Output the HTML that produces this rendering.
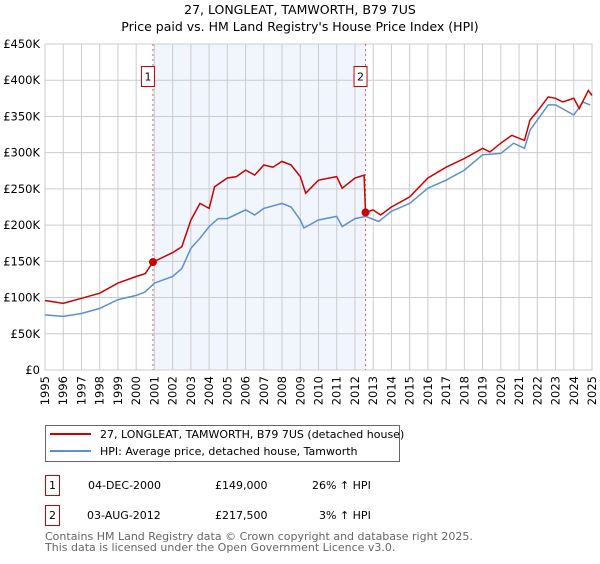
<!DOCTYPE html>
<html><head><meta charset="utf-8"><style>
body{margin:0;background:#fff;font-family:"DejaVu Sans","Liberation Sans",sans-serif;}
svg text{font-family:"DejaVu Sans","Liberation Sans",sans-serif;}
</style></head><body>
<svg id="c" width="600" height="560" xmlns="http://www.w3.org/2000/svg">
<text x="300" y="14" text-anchor="middle" font-size="12.5" fill="#000">27, LONGLEAT, TAMWORTH, B79 7US</text>
<text x="300" y="31" text-anchor="middle" font-size="12.5" fill="#000">Price paid vs. HM Land Registry's House Price Index (HPI)</text>
<g id="plot"></g>
<g>
<rect x="45.5" y="425.5" width="354" height="36" fill="#fff" stroke="#666"/>
<line x1="50" y1="434" x2="91" y2="434" stroke="#cc0000" stroke-width="2"/>
<text x="100" y="438" font-size="11">27, LONGLEAT, TAMWORTH, B79 7US (detached house)</text>
<line x1="50" y1="451" x2="91" y2="451" stroke="#5b8fd0" stroke-width="2"/>
<text x="100" y="455" font-size="11">HPI: Average price, detached house, Tamworth</text>
</g>
<g font-size="11">
<rect x="45.5" y="475.5" width="14" height="20" fill="none" stroke="#cc0000"/>
<text x="52.5" y="489" text-anchor="middle">1</text>
<text x="88" y="489">04-DEC-2000</text>
<text x="215" y="489">£149,000</text>
<text x="312" y="489">26% ↑ HPI</text>
</g>
<g font-size="11">
<rect x="45.5" y="505.5" width="14" height="20" fill="none" stroke="#cc0000"/>
<text x="52.5" y="519" text-anchor="middle">2</text>
<text x="87" y="519">03-AUG-2012</text>
<text x="215" y="519">£217,500</text>
<text x="319" y="519">3% ↑ HPI</text>
</g>
<text x="45" y="540" font-size="11" fill="#666">Contains HM Land Registry data © Crown copyright and database right 2025.</text>
<text x="45" y="551" font-size="11" fill="#666">This data is licensed under the Open Government Licence v3.0.</text>
</svg>
<script>
const yearTicks=[1995,1996,1997,1998,1999,2000,2001,2002,2003,2004,2005,2006,2007,2008,2009,2010,2011,2012,2013,2014,2015,2016,2017,2018,2019,2020,2021,2022,2023,2024,2025];
const valueTicks=[0,50,100,150,200,250,300,350,400,450];
const valueLabels=["£0","£50K","£100K","£150K","£200K","£250K","£300K","£350K","£400K","£450K"];
const hpiYears=[1995,1996,1997,1998,1999,2000,2000.5,2001,2002,2002.5,2003,2003.5,2004,2004.5,2005,2006,2006.5,2007,2008,2008.5,2009,2009.2,2010,2011,2011.3,2012,2012.6,2013.3,2014,2015,2016,2017,2018,2019,2020,2020.7,2021.3,2021.6,2022,2022.6,2023,2023.5,2024,2024.5,2024.9];
const hpiValues=[76,74,78,85,97,103,108,120,129,140,168,182,198,209,209,221,214,223,230,225,207,196,207,212,198,209,212,205,219,230,251,262,276,297,299,313,306,331,345,366,366,359,352,370,366];
const priceYears=[1995,1996,1997,1998,1999,2000,2000.5,2000.92,2002,2002.5,2003,2003.5,2004,2004.3,2005,2005.5,2006,2006.5,2007,2007.5,2008,2008.5,2009,2009.3,2010,2011,2011.3,2012,2012.5,2012.58,2013,2013.4,2014,2015,2016,2017,2018,2019,2019.4,2020,2020.6,2021.3,2021.6,2022,2022.6,2023,2023.4,2024,2024.3,2024.8,2025];
const priceValues=[96,92,99,106,120,129,133,149,162,170,207,230,223,253,265,267,276,269,283,280,288,283,267,244,262,267,251,265,269,217.5,221,214,225,239,265,280,292,306,301,313,324,317,345,357,377,375,370,375,361,386,379];
const saleYears=[2000.92,2012.58];
const saleValues=[149,217.5];
const saleLabels=["1","2"];

const L=45,R=592,T=44,B=370;
const X=y=>L+(y-1995)/(2025-1995)*(R-L);
const Y=v=>B-v/450*(B-T);
const NS="http://www.w3.org/2000/svg";
const g=document.getElementById('plot');
function mk(t,a){const e=document.createElementNS(NS,t);for(const k in a)e.setAttribute(k,a[k]);g.appendChild(e);return e;}
let e;
e=mk('rect',{x:X(saleYears[0]),y:T,width:X(saleYears[1])-X(saleYears[0]),height:B-T,fill:'#eef3fc',opacity:0.8});


yearTicks.forEach(yr=>{
 e=mk('line',{x1:X(yr),x2:X(yr),y1:T,y2:B,stroke:'#ccc','stroke-width':1});
 
 
 e=mk('text',{x:0,y:0,'font-size':11.5,'text-anchor':'end',transform:`translate(${X(yr)+4},${B+6}) rotate(-90)`});
 e.textContent=yr;
 
 
});
valueTicks.forEach((v,i)=>{
 e=mk('line',{x1:L,x2:R,y1:Y(v),y2:Y(v),stroke:'#ccc','stroke-width':1});
 
 
 e=mk('text',{x:L-5,y:Y(v)+4,'font-size':11.5,'text-anchor':'end'});
 e.textContent=valueLabels[i];
 
 
});
e=mk('rect',{x:L,y:T,width:R-L,height:B-T,fill:'none',stroke:'#ccc'});


saleYears.forEach((yr,i)=>{
 e=mk('line',{x1:X(yr),x2:X(yr),y1:T,y2:B,stroke:'#e06060','stroke-dasharray':'2,3','stroke-width':1});
 
 
 e=mk('rect',{x:X(yr)-11.5,y:66.5,width:13,height:20,fill:'#fff',stroke:'#cc0000'});
 
 
 e=mk('text',{x:X(yr)-5,y:80.5,'font-size':11,'text-anchor':'middle'});
 e.textContent=saleLabels[i];
 
 
});
function path(xs,vs){return xs.map((x,i)=>(i?'L':'M')+X(x).toFixed(1)+','+Y(vs[i]).toFixed(1)).join('');}
e=mk('path',{d:path(hpiYears,hpiValues),fill:'none',stroke:'#5b8fd0','stroke-width':1.5});


e=mk('path',{d:path(priceYears,priceValues),fill:'none',stroke:'#cc0000','stroke-width':1.5});


saleYears.forEach((yr,i)=>{
 e=mk('circle',{cx:X(yr),cy:Y(saleValues[i]),r:4,fill:'#cc0000'});
 
 
});
</script>
</body></html>
